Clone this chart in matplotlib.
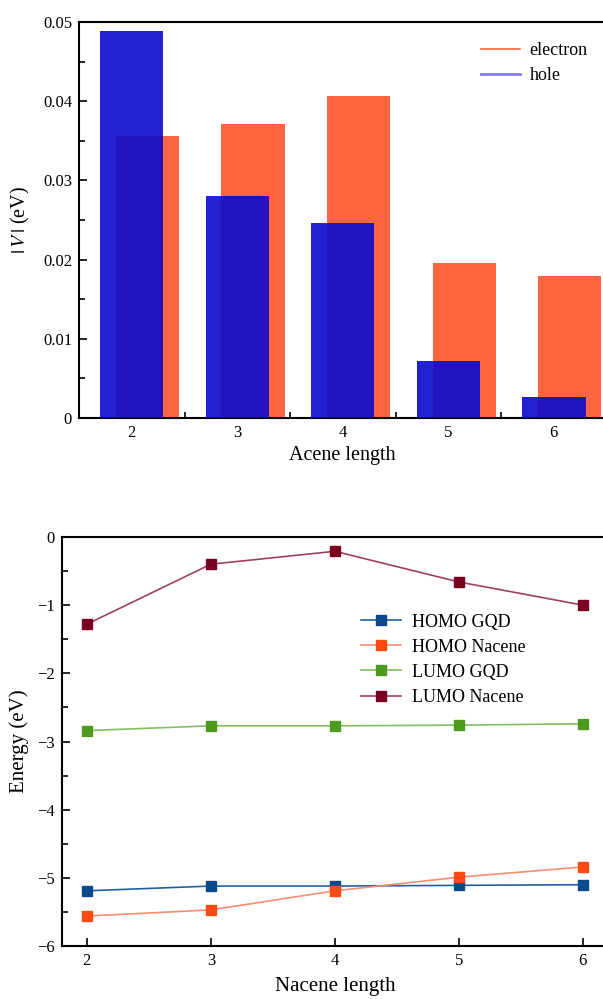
import matplotlib
matplotlib.use("Agg")
import matplotlib.pyplot as plt
from matplotlib.ticker import MultipleLocator, FuncFormatter
from matplotlib.lines import Line2D

plt.rcParams['font.family'] = ['Liberation Serif', 'DejaVu Serif']
plt.rcParams['mathtext.fontset'] = 'stix'

# ---- data ----
acene = [2, 3, 4, 5, 6]
electron = [0.0356, 0.0371, 0.0407, 0.0196, 0.0179]
hole = [0.0489, 0.0280, 0.0246, 0.0072, 0.0027]

nacene = [2, 3, 4, 5, 6]
homo_gqd = [-5.19, -5.12, -5.12, -5.11, -5.10]
homo_nacene = [-5.56, -5.47, -5.19, -4.99, -4.84]
lumo_gqd = [-2.84, -2.77, -2.77, -2.76, -2.74]
lumo_nacene = [-1.28, -0.40, -0.21, -0.66, -1.00]

fig = plt.figure(figsize=(6.03, 9.99), dpi=100)

def style(ax):
    for s in ax.spines.values():
        s.set_linewidth(1.5)
    ax.tick_params(which='both', direction='in', labelsize=12, width=1.2, pad=5)
    ax.tick_params(which='major', length=6)
    ax.tick_params(which='minor', length=4)

# ---- top panel ----
ax1 = fig.add_axes([0.131, 0.5816, 0.875, 0.3964])
ax1.bar([x + 0.15 for x in acene], electron, width=0.6, color='#FF6640', label='electron', zorder=2)
ax1.bar(acene, hole, width=0.6, color='#0A0ACD', alpha=0.9, label='hole', zorder=3)
ax1.set_xlim(1.5, 6.5)
ax1.set_ylim(0, 0.05)
ax1.set_xticks(acene)
ax1.xaxis.set_minor_locator(MultipleLocator(0.5))
ax1.yaxis.set_major_locator(MultipleLocator(0.01))
ax1.yaxis.set_minor_locator(MultipleLocator(0.005))
ax1.yaxis.set_major_formatter(FuncFormatter(lambda v, p: '0' if abs(v) < 1e-12 else f'{v:.2f}'))
ax1.set_xlabel('Acene length', fontsize=14.5, labelpad=4)
ax1.set_ylabel(r'$|\,V\,|$ (eV)', fontsize=14.5, labelpad=8)
ax1.spines['right'].set_visible(False)
style(ax1)
handles = [Line2D([], [], color='#FF6640', lw=1.2), Line2D([], [], color='#8080F0', lw=2)]
ax1.legend(handles, ['electron', 'hole'], loc='upper right', bbox_to_anchor=(0.995, 0.99),
           frameon=False, fontsize=13, handlelength=2.15, handletextpad=0.55, labelspacing=0.45)

# ---- bottom panel ----
ax2 = fig.add_axes([0.1028, 0.053, 0.905, 0.4095])
series = [
    ('HOMO GQD', homo_gqd, '#0A4A8C', '#2060A0'),
    ('HOMO Nacene', homo_nacene, '#FF4A14', '#FF8A70'),
    ('LUMO GQD', lumo_gqd, '#4E9A1E', '#80C060'),
    ('LUMO Nacene', lumo_nacene, '#7A0022', '#A04060'),
]
for name, vals, mc, lc in series:
    ax2.plot(nacene, vals, color=lc, lw=1.2, marker='s', markersize=6.5,
             markerfacecolor=mc, markeredgecolor=mc, label=name)
ax2.set_xlim(1.8, 6.2)
ax2.set_ylim(-6, 0)
ax2.set_xticks(nacene)
ax2.yaxis.set_major_locator(MultipleLocator(1))
ax2.yaxis.set_minor_locator(MultipleLocator(0.5))
ax2.yaxis.set_major_formatter(FuncFormatter(lambda v, p: '0' if abs(v) < 1e-12 else f'\u2212{abs(v):.0f}'))
ax2.set_xlabel('Nacene length', fontsize=15, labelpad=6)
ax2.set_ylabel('Energy (eV)', fontsize=15, labelpad=6)
ax2.spines['right'].set_visible(False)
style(ax2)
ax2.legend(loc='center left', bbox_to_anchor=(0.519, 0.70), frameon=False, fontsize=13,
           handlelength=2.2, handletextpad=0.6, labelspacing=0.45)

fig.savefig('out.png', dpi=100)
